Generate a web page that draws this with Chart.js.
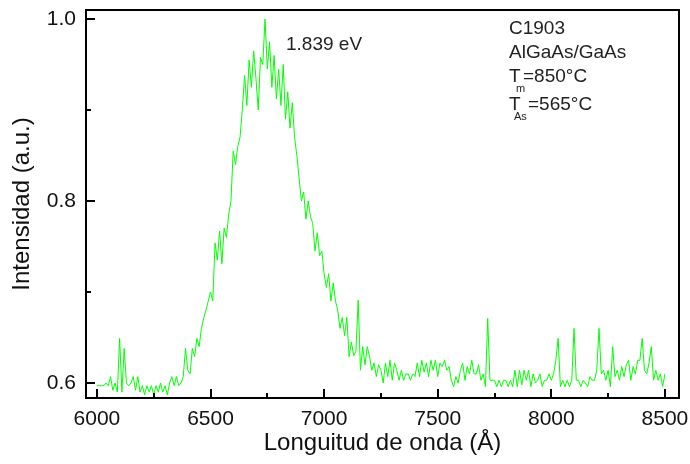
<!DOCTYPE html>
<html>
<head>
    <title>Espectro PL C1903</title>
    <script src="https://cdn.jsdelivr.net/npm/chart.js"></script>
    <style>
        html, body {
            margin: 0;
            padding: 0;
            background: #fff;
        }
        #wrap {
            width: 690px;
            height: 464px;
        }
    </style>
</head>
<body>
    <div id="wrap"><canvas id="plChart" width="690" height="464"></canvas></div>

    <script>
        // Longitud de onda, paso de 10 Å
        const wlStart = 6000;
        const wlStep = 10;
        const intensity = [
            0.597, 0.597, 0.597, 0.597, 0.600, 0.597, 0.607, 0.592, 0.600, 0.590,
            0.649, 0.590, 0.638, 0.600, 0.597, 0.600, 0.607, 0.592, 0.607, 0.590,
            0.597, 0.587, 0.597, 0.590, 0.597, 0.587, 0.597, 0.590, 0.600, 0.590,
            0.597, 0.587, 0.600, 0.607, 0.597, 0.607, 0.597, 0.600, 0.607, 0.638,
            0.614, 0.610, 0.638, 0.629, 0.649, 0.640, 0.660, 0.671, 0.680, 0.690,
            0.700, 0.690, 0.754, 0.735, 0.767, 0.731, 0.770, 0.760, 0.785, 0.800,
            0.855, 0.840, 0.860, 0.870, 0.900, 0.938, 0.905, 0.955, 0.925, 0.965,
            0.935, 0.900, 0.958, 0.950, 1.000, 0.945, 0.975, 0.925, 0.960, 0.912,
            0.945, 0.905, 0.950, 0.890, 0.920, 0.880, 0.908, 0.870, 0.850, 0.825,
            0.800, 0.810, 0.780, 0.800, 0.783, 0.775, 0.745, 0.765, 0.740, 0.745,
            0.720, 0.705, 0.720, 0.690, 0.710, 0.690, 0.680, 0.660, 0.672, 0.652,
            0.672, 0.629, 0.645, 0.630, 0.635, 0.691, 0.614, 0.640, 0.620, 0.640,
            0.629, 0.614, 0.622, 0.607, 0.620, 0.614, 0.600, 0.622, 0.607, 0.625,
            0.603, 0.622, 0.614, 0.603, 0.614, 0.603, 0.610, 0.610, 0.603, 0.610,
            0.607, 0.622, 0.607, 0.625, 0.612, 0.622, 0.607, 0.625, 0.614, 0.625,
            0.607, 0.622, 0.618, 0.625, 0.614, 0.618, 0.603, 0.596, 0.607, 0.600,
            0.614, 0.622, 0.603, 0.618, 0.610, 0.625, 0.610, 0.610, 0.620, 0.603,
            0.610, 0.596, 0.671, 0.603, 0.603, 0.603, 0.596, 0.603, 0.596, 0.603,
            0.603, 0.596, 0.603, 0.596, 0.614, 0.596, 0.614, 0.598, 0.614, 0.603,
            0.614, 0.596, 0.610, 0.600, 0.603, 0.610, 0.596, 0.603, 0.603, 0.610,
            0.603, 0.610, 0.625, 0.649, 0.596, 0.603, 0.596, 0.603, 0.596, 0.603,
            0.660, 0.603, 0.603, 0.596, 0.603, 0.600, 0.596, 0.607, 0.603, 0.603,
            0.614, 0.660, 0.610, 0.614, 0.603, 0.614, 0.596, 0.640, 0.607, 0.614,
            0.603, 0.618, 0.607, 0.620, 0.625, 0.603, 0.618, 0.610, 0.625, 0.625,
            0.649, 0.614, 0.610, 0.622, 0.640, 0.603, 0.614, 0.603, 0.610, 0.596,
            0.610
        ];
        const xTicks = [6000, 6500, 7000, 7500, 8000, 8500];
        const xMinorTicks = [6250, 6750, 7250, 7750, 8250];
        const yTicks = [0.6, 0.8, 1.0];
        const yMinorTicks = [0.7, 0.9];

        const FONT = 'Arial, "Liberation Sans", sans-serif';

        const points = intensity.map((v, i) => ({ x: wlStart + i * wlStep, y: v }));

        // Marco completo y marcas hacia dentro
        const framePlugin = {
            id: 'frame',
            afterDraw(chart) {
                const ctx = chart.ctx;
                const a = chart.chartArea;
                const xs = chart.scales.x;
                const ys = chart.scales.y;
                ctx.save();
                ctx.strokeStyle = '#000';
                ctx.lineWidth = 2;
                ctx.strokeRect(a.left, a.top, a.right - a.left, a.bottom - a.top);

                ctx.beginPath();
                xTicks.forEach(v => {
                    const px = Math.round(xs.getPixelForValue(v));
                    ctx.moveTo(px, a.bottom); ctx.lineTo(px, a.bottom - 9);
                });
                xMinorTicks.forEach(v => {
                    const px = Math.round(xs.getPixelForValue(v));
                    ctx.moveTo(px, a.bottom); ctx.lineTo(px, a.bottom - 5);
                });
                yTicks.forEach(v => {
                    const py = Math.round(ys.getPixelForValue(v));
                    ctx.moveTo(a.left, py); ctx.lineTo(a.left + 9, py);
                });
                yMinorTicks.forEach(v => {
                    const py = Math.round(ys.getPixelForValue(v));
                    ctx.moveTo(a.left, py); ctx.lineTo(a.left + 5, py);
                });
                ctx.stroke();

                // textos
                ctx.fillStyle = '#222';
                ctx.textBaseline = 'middle';
                ctx.textAlign = 'left';
                ctx.font = '19px ' + FONT;
                ctx.fillText('1.839 eV', 286, 45);
                ctx.fillText('C1903', 509, 29);
                ctx.fillText('AlGaAs/GaAs', 509, 53);
                ctx.fillText('T', 509, 77);
                ctx.fillText('=850°C', 523, 77);
                ctx.fillText('T', 509, 105);
                ctx.fillText('=565°C', 528, 105);
                ctx.font = '11px ' + FONT;
                ctx.fillText('m', 516, 89);
                ctx.fillText('As', 514, 117);
                ctx.restore();
            }
        };

        new Chart(document.getElementById('plChart'), {
            type: 'line',
            data: {
                datasets: [{
                    data: points,
                    borderColor: '#00ff00',
                    borderWidth: 1,
                    pointRadius: 0,
                    tension: 0,
                    fill: false
                }]
            },
            options: {
                responsive: false,
                animation: false,
                layout: { padding: { top: 10, right: 11, left: 0, bottom: 0 } },
                plugins: {
                    legend: { display: false },
                    tooltip: { enabled: false }
                },
                scales: {
                    x: {
                        type: 'linear',
                        min: 5952,
                        max: 8562,
                        afterBuildTicks: s => { s.ticks = xTicks.map(v => ({ value: v })); },
                        afterFit: s => { s.height = 66; s.paddingLeft = 0; s.paddingRight = 0; },
                        grid: { display: false, drawTicks: false },
                        border: { display: false },
                        ticks: {
                            color: '#111',
                            font: { size: 21, family: FONT },
                            padding: 9,
                            maxRotation: 0,
                            callback: v => String(v)
                        },
                        title: {
                            display: true,
                            text: 'Longuitud de onda (Å)',
                            color: '#111',
                            font: { size: 24, family: FONT },
                            padding: { top: 0, bottom: 6 }
                        }
                    },
                    y: {
                        type: 'linear',
                        min: 0.5835,
                        max: 1.0099,
                        afterBuildTicks: s => { s.ticks = yTicks.map(v => ({ value: v })); },
                        afterFit: s => { s.width = 86; s.paddingTop = 0; s.paddingBottom = 0; },
                        grid: { display: false, drawTicks: false },
                        border: { display: false },
                        ticks: {
                            color: '#111',
                            font: { size: 21, family: FONT },
                            padding: 10,
                            callback: v => v.toFixed(1)
                        },
                        title: {
                            display: true,
                            text: 'Intensidad (a.u.)',
                            color: '#111',
                            font: { size: 24, family: FONT },
                            padding: { top: 8, bottom: 0 }
                        }
                    }
                }
            },
            plugins: [framePlugin]
        });
    </script>
</body>
</html>
